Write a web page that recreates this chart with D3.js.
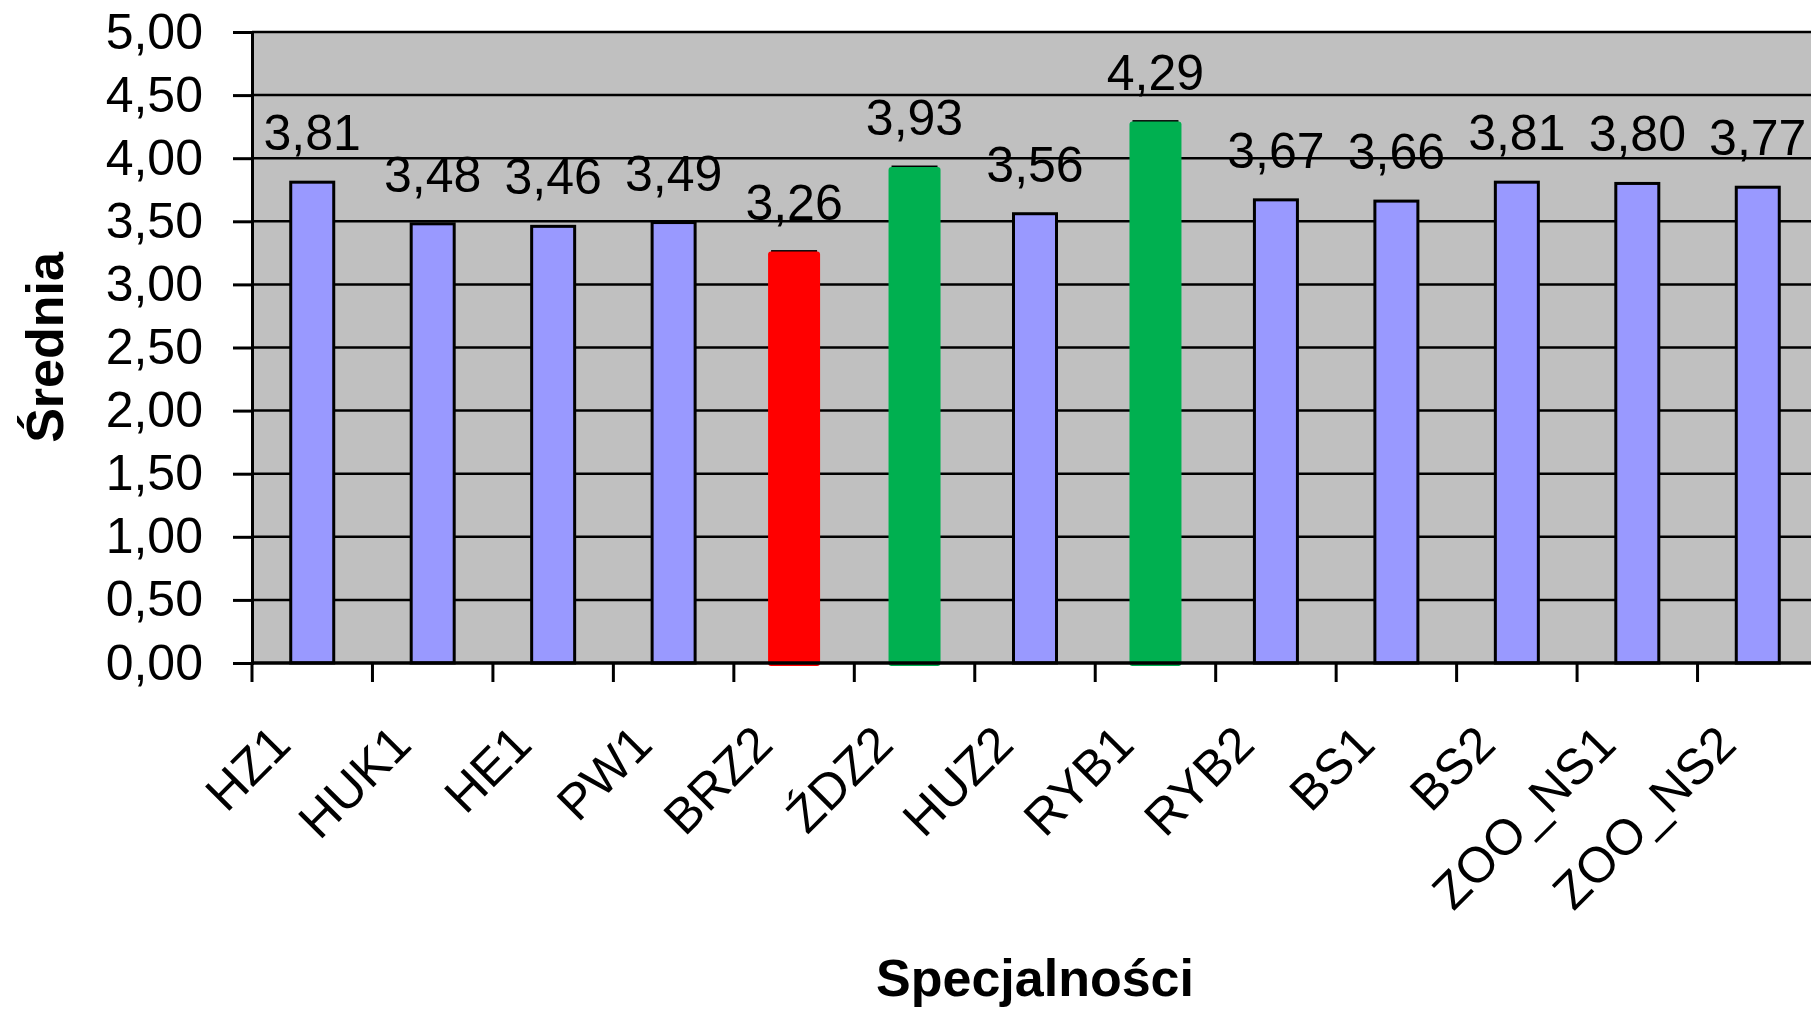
<!DOCTYPE html>
<html>
<head>
<meta charset="utf-8">
<script src="https://cdn.jsdelivr.net/npm/d3@7"></script>
<style>
  body { margin: 0; background: #fff; }
  svg { display: block; font-family: Arial, "Liberation Sans", sans-serif; }
</style>
</head>
<body>
<div id="chart"></div>
<script>
var categories = ["HZ1", "HUK1", "HE1", "PW1", "BRZ2", "ŹDZ2", "HUZ2", "RYB1", "RYB2", "BS1", "BS2", "ZOO_NS1", "ZOO_NS2"];
var values = [3.81, 3.48, 3.46, 3.49, 3.26, 3.93, 3.56, 4.29, 3.67, 3.66, 3.81, 3.80, 3.77];
var yTicks = [0, 0.5, 1, 1.5, 2, 2.5, 3, 3.5, 4, 4.5, 5];
var lowest = ["BRZ2"];
var highest = ["ŹDZ2", "RYB1"];
var yTitle = "Średnia";
var xTitle = "Specjalności";

var svgWidth = 1811, svgHeight = 1009;
var margin = { top: 32, left: 252, bottom: 346, right: -7 };
var width = svgWidth - margin.left - margin.right;
var height = svgHeight - margin.top - margin.bottom;

var fmt = function(v) { return d3.format(".2f")(v).replace(".", ","); };

var svg = d3.select("#chart").append("svg")
  .attr("width", svgWidth)
  .attr("height", svgHeight);

var g = svg.append("g")
  .attr("transform", "translate(" + margin.left + "," + margin.top + ")");

var x = d3.scaleBand().domain(categories).range([0, width]);
var y = d3.scaleLinear().domain([0, 5]).range([height, 0]);

// plot area
g.append("rect")
  .attr("width", width)
  .attr("height", height)
  .attr("fill", "#c0c0c0");
g.append("line")
  .attr("x1", 0).attr("x2", width)
  .attr("y1", 0).attr("y2", 0)
  .attr("stroke", "#808080")
  .attr("stroke-width", 2);

// gridlines
g.append("g")
  .selectAll("line")
  .data(yTicks.slice(1))
  .join("line")
  .attr("x1", 0).attr("x2", width)
  .attr("y1", function(d) { return y(d); })
  .attr("y2", function(d) { return y(d); })
  .attr("stroke", "#000")
  .attr("stroke-width", 2.5);

// bars
var barW = 43;
g.append("g")
  .selectAll("rect")
  .data(values)
  .join("rect")
  .attr("x", function(d, i) { return x(categories[i]) + x.bandwidth() / 2 - barW / 2; })
  .attr("y", function(d) { return y(d); })
  .attr("width", barW)
  .attr("height", function(d) { return y(0) - y(d); })
  .attr("fill", "#9999ff")
  .attr("stroke", "#000")
  .attr("stroke-width", 3);

// highlighted bars drawn over the originals
var hiW = 52;
var marked = categories.filter(function(c) { return lowest.includes(c) || highest.includes(c); });
g.append("g")
  .selectAll("rect")
  .data(marked)
  .join("rect")
  .attr("x", function(c) { return x(c) + x.bandwidth() / 2 - hiW / 2; })
  .attr("y", function(c) { return y(values[categories.indexOf(c)]); })
  .attr("width", hiW)
  .attr("height", function(c) { return y(0) - y(values[categories.indexOf(c)]) + 3; })
  .attr("rx", 3)
  .attr("fill", function(c) { return lowest.includes(c) ? "#ff0000" : "#00b050"; });

// value labels
g.append("g")
  .selectAll("text")
  .data(values)
  .join("text")
  .attr("x", function(d, i) { return x(categories[i]) + x.bandwidth() / 2; })
  .attr("y", function(d) { return y(d) - 32; })
  .attr("text-anchor", "middle")
  .attr("font-size", 50)
  .attr("fill", "#000")
  .text(fmt);

// y axis
var yAxis = g.append("g")
  .call(d3.axisLeft(y).tickValues(yTicks).tickFormat(fmt).tickSize(19).tickPadding(30));
yAxis.select(".domain").attr("stroke", "#000").attr("stroke-width", 3);
yAxis.selectAll(".tick line").attr("stroke", "#000").attr("stroke-width", 3);
yAxis.selectAll(".tick text")
  .attr("font-size", 50)
  .attr("fill", "#000")
  .attr("font-family", "Arial, 'Liberation Sans', sans-serif");

// x axis: ticks sit between categories
var edges = d3.range(categories.length + 1).map(function(i) { return i * x.step(); });
var xg = g.append("g").attr("transform", "translate(0," + height + ")");
xg.append("line")
  .attr("x1", 0).attr("x2", width)
  .attr("stroke", "#000")
  .attr("stroke-width", 3.5);
xg.selectAll(".edge")
  .data(edges)
  .join("line")
  .attr("class", "edge")
  .attr("x1", function(d) { return d; })
  .attr("x2", function(d) { return d; })
  .attr("y1", 0).attr("y2", 19)
  .attr("stroke", "#000")
  .attr("stroke-width", 3);
xg.selectAll(".lbl")
  .data(categories)
  .join("text")
  .attr("class", "lbl")
  .attr("text-anchor", "end")
  .attr("font-size", 50)
  .attr("fill", "#000")
  .attr("transform", function(c) {
    return "translate(" + (x(c) + x.bandwidth() / 2 - 19) + ",84) rotate(-45)";
  })
  .text(function(c) { return c; });

// axis titles
svg.append("text")
  .attr("transform", "translate(63," + (margin.top + height / 2) + ") rotate(-90)")
  .attr("text-anchor", "middle")
  .attr("font-size", 52)
  .attr("font-weight", "bold")
  .attr("fill", "#000")
  .text(yTitle);

svg.append("text")
  .attr("x", margin.left + width / 2)
  .attr("y", 996)
  .attr("text-anchor", "middle")
  .attr("font-size", 52)
  .attr("font-weight", "bold")
  .attr("fill", "#000")
  .text(xTitle);
</script>
</body>
</html>
